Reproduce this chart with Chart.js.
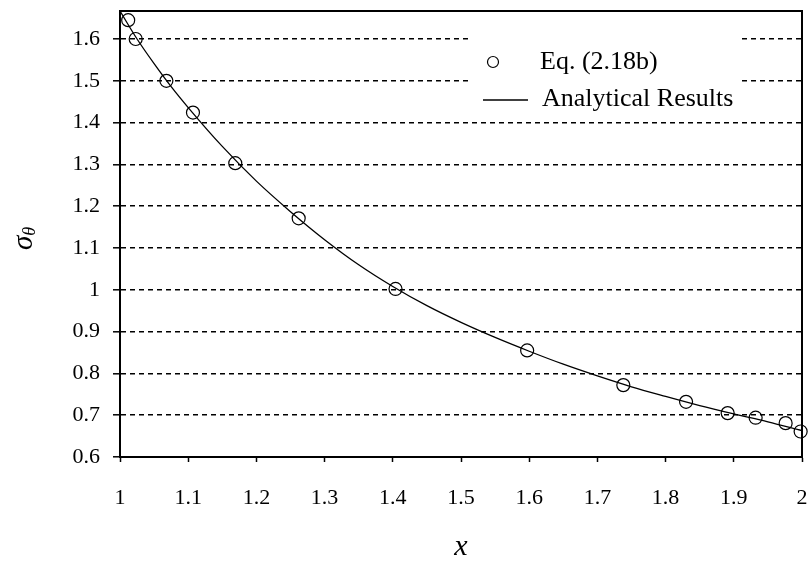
<!DOCTYPE html>
<html>
<head>
<meta charset="utf-8">
<script src="https://cdn.jsdelivr.net/npm/chart.js@4.4.1/dist/chart.umd.min.js"></script>
<style>
  html, body { margin: 0; padding: 0; background: #fff; }
  #wrap { width: 811px; height: 562px; }
</style>
</head>
<body>
<div id="wrap"><canvas id="sigmaChart" width="811" height="562"></canvas></div>
<script>
  // Eq. (2.18b) markers
  const eqX = [1.012, 1.023, 1.068, 1.107, 1.169, 1.262, 1.404, 1.597, 1.738, 1.830, 1.891, 1.932, 1.976, 1.998];
  const eqY = [1.645, 1.600, 1.500, 1.424, 1.303, 1.171, 1.002, 0.855, 0.772, 0.732, 0.705, 0.694, 0.681, 0.661];

  // analytical curve
  const curveX = [1.00, 1.025, 1.05, 1.075, 1.10, 1.15, 1.20, 1.25, 1.30, 1.35, 1.40, 1.45, 1.50, 1.55, 1.60, 1.65, 1.70, 1.75, 1.80, 1.85, 1.90, 1.95, 2.00];
  const curveY = [1.667, 1.600, 1.541, 1.486, 1.436, 1.343, 1.260, 1.187, 1.120, 1.060, 1.008, 0.962, 0.922, 0.886, 0.853, 0.822, 0.794, 0.768, 0.745, 0.723, 0.703, 0.684, 0.663];

  const seriesLabels = ["Eq. (2.18b)", "Analytical Results"];
  const xTitle = "x";
  const yTitleMain = "σ";
  const yTitleSub = "θ";

  const serif = "'Liberation Serif', 'Times New Roman', serif";

  const eqPoints = eqX.map((x, i) => ({ x: x, y: eqY[i] }));
  const curvePoints = curveX.map((x, i) => ({ x: x, y: curveY[i] }));

  const fmt = (v) => String(Number(v.toFixed(1)));

  // frame on top/right + legend + y title
  const extras = {
    id: "extras",
    beforeDatasetsDraw(chart) {
      const { ctx, chartArea: a } = chart;
      ctx.save();
      ctx.strokeStyle = "#000";
      ctx.lineWidth = 2;
      ctx.beginPath();
      ctx.moveTo(a.left, a.top);
      ctx.lineTo(a.right, a.top);
      ctx.lineTo(a.right, a.bottom);
      ctx.stroke();
      ctx.restore();
    },
    afterDraw(chart) {
      const ctx = chart.ctx;
      ctx.save();
      // legend
      ctx.fillStyle = "#fff";
      ctx.fillRect(472, 30, 270, 84);
      ctx.strokeStyle = "#000";
      ctx.lineWidth = 1.2;
      ctx.beginPath();
      ctx.arc(493, 62, 5.5, 0, Math.PI * 2);
      ctx.stroke();
      ctx.lineWidth = 1.3;
      ctx.beginPath();
      ctx.moveTo(483, 100);
      ctx.lineTo(528, 100);
      ctx.stroke();
      ctx.fillStyle = "#000";
      ctx.font = "26px " + serif;
      ctx.textBaseline = "middle";
      ctx.textAlign = "left";
      ctx.fillText(seriesLabels[0], 540, 62);
      ctx.fillText(seriesLabels[1], 542, 99);

      // y title with subscript
      ctx.translate(32, 250);
      ctx.rotate(-Math.PI / 2);
      ctx.textBaseline = "alphabetic";
      ctx.font = "italic 29px " + serif;
      ctx.fillText(yTitleMain, 0, 0);
      const w = ctx.measureText(yTitleMain).width;
      ctx.font = "italic 18px " + serif;
      ctx.fillText(yTitleSub, w, 3);
      ctx.restore();
    },
  };

  new Chart(document.getElementById("sigmaChart"), {
    type: "scatter",
    data: {
      datasets: [
        {
          label: seriesLabels[0],
          data: eqPoints,
          showLine: false,
          pointStyle: "circle",
          pointRadius: 6.5,
          pointBorderWidth: 1.2,
          pointBorderColor: "#000",
          pointBackgroundColor: "rgba(0,0,0,0)",
          clip: false,
        },
        {
          label: seriesLabels[1],
          data: curvePoints,
          showLine: true,
          borderColor: "#000",
          borderWidth: 1.3,
          pointRadius: 0,
          cubicInterpolationMode: "monotone",
        },
      ],
    },
    options: {
      responsive: false,
      animation: false,
      layout: {
        padding: { left: 0, right: 9, top: 11, bottom: 0 },
      },
      scales: {
        x: {
          type: "linear",
          min: 1,
          max: 2,
          afterFit(scale) {
            scale.height = 105;
            scale.paddingLeft = 0;
            scale.paddingRight = 0;
          },
          border: { display: true, color: "#000", width: 2 },
          grid: {
            drawOnChartArea: false,
            drawTicks: true,
            tickLength: 5,
            tickColor: "#000",
            tickWidth: 1.5,
          },
          ticks: {
            stepSize: 0.1,
            includeBounds: false,
            color: "#000",
            padding: 23,
            maxRotation: 0,
            autoSkip: false,
            font: { family: serif, size: 22 },
            callback: (v) => fmt(v),
          },
          title: {
            display: true,
            text: xTitle,
            color: "#000",
            font: { family: serif, size: 30, style: "italic", lineHeight: 1 },
            padding: { top: 0, bottom: 0 },
          },
        },
        y: {
          type: "linear",
          min: 0.6,
          max: 1.667,
          afterFit(scale) {
            scale.width = 120;
            scale.paddingTop = 0;
            scale.paddingBottom = 0;
          },
          border: { display: true, color: "#000", width: 2, dash: [5, 4] },
          grid: {
            color: "#000",
            lineWidth: 1.6,
            drawTicks: true,
            tickLength: 7,
            tickColor: "#000",
            tickWidth: 1.5,
            tickBorderDash: [],
          },
          ticks: {
            stepSize: 0.1,
            includeBounds: false,
            color: "#000",
            padding: 13,
            font: { family: serif, size: 22 },
            callback: (v) => fmt(v),
          },
        },
      },
      plugins: {
        legend: { display: false },
        tooltip: { enabled: false },
      },
    },
    plugins: [extras],
  });
</script>
</body>
</html>
